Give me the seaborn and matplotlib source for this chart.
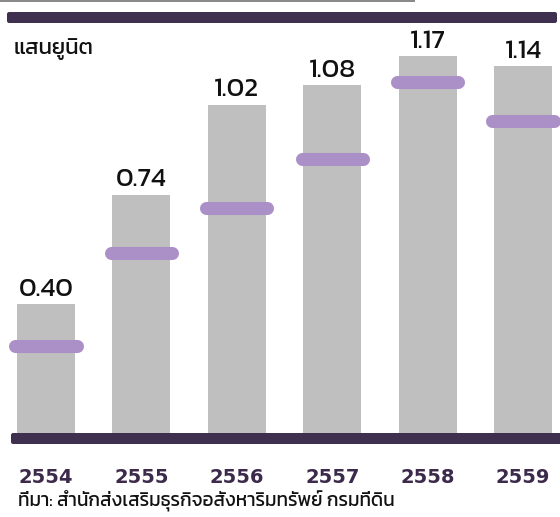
import matplotlib
matplotlib.use("Agg")
import matplotlib.pyplot as plt
from matplotlib.patches import FancyBboxPatch, Rectangle
import seaborn as sns
import pandas as pd

years = ["2554", "2555", "2556", "2557", "2558", "2559"]
values = [0.40, 0.74, 1.02, 1.08, 1.17, 1.14]
marker_values = [0.27, 0.56, 0.70, 0.85, 1.09, 0.97]
value_labels = ["0.40", "0.74", "1.02", "1.08", "1.17", "1.14"]
unit_label = "แสนยูนิต"
source_text = "ที่มา: สำนักส่งเสริมธุรกิจอสังหาริมทรัพย์ กรมที่ดิน"

sns.set_theme(style="white")
plt.rcParams['font.family'] = ['Kanit', 'DejaVu Sans']

W, H = 560, 517
fig = plt.figure(figsize=(W / 100, H / 100), dpi=100)
fig.patch.set_facecolor("white")

def fx(px):
    return px / W

def fy(py):
    return (H - py) / H

# axes: bottom at y=433 px, top at 0 px, full width
ax = fig.add_axes([0, fy(433), 1, 433 / H])
ax.set_facecolor("none")

df = pd.DataFrame({"year": years, "value": values})
sns.barplot(data=df, x="year", y="value", ax=ax, color="#bfbfbf",
            saturation=1, width=0.608, linewidth=0, errorbar=None, zorder=1)

pxu = 95.4
ax.set_xlim(-46 / pxu, -46 / pxu + W / pxu)
ax.set_ylim(0, 433 / 322)

# markers (second series)
for i, mv in enumerate(marker_values):
    ax.plot([i - 0.32, i + 0.32], [mv, mv], color="#ab90c7", lw=9.4,
            solid_capstyle="round", zorder=3, clip_on=False)

# value labels
for i, (v, lab) in enumerate(zip(values, value_labels)):
    ax.annotate(lab, (i, v), xytext=(0, 6), textcoords="offset points",
                ha="center", va="baseline", fontsize=19.5, color="#111111",
                family=['Kanit', 'DejaVu Sans'], fontweight="normal")

for s in ax.spines.values():
    s.set_visible(False)
ax.set_yticks([])
ax.set_xlabel("")
ax.set_ylabel("")
ax.tick_params(axis="x", length=0, pad=25)
for t in ax.get_xticklabels():
    t.set_fontsize(14)
    t.set_fontweight("bold")
    t.set_color("#3b2a4a")
    t.set_family(['DejaVu Sans'])

# decorative bands
fig.add_artist(FancyBboxPatch((fx(7), fy(23)), fx(550), 11 / H,
                              boxstyle="round,pad=0,rounding_size=0.004",
                              transform=fig.transFigure, facecolor="#3f3050",
                              edgecolor="none", zorder=5))
fig.add_artist(FancyBboxPatch((fx(11), fy(444)), fx(560), 11 / H,
                              boxstyle="round,pad=0,rounding_size=0.004",
                              transform=fig.transFigure, facecolor="#3f3050",
                              edgecolor="none", zorder=5))
fig.add_artist(Rectangle((0, fy(2)), fx(415), 2 / H, transform=fig.transFigure,
                         facecolor="#8a8a8a", edgecolor="none", zorder=5))

fig.text(fx(14), fy(49), unit_label, ha="left", va="center", fontsize=16,
         color="#111111", family=['Kanit', 'DejaVu Sans'])
fig.text(fx(18), fy(500), source_text, ha="left", va="center", fontsize=13.6,
         color="#111111", family=['Kanit', 'DejaVu Sans'])

fig.savefig("out.png", dpi=100)
